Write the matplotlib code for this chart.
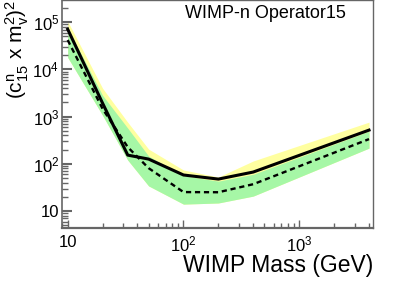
import numpy as np
import matplotlib
matplotlib.use("Agg")
import matplotlib.pyplot as plt
from matplotlib.ticker import FixedLocator, LogLocator, FuncFormatter, NullFormatter

plt.rcParams["font.family"] = ["Liberation Sans", "DejaVu Sans"]
plt.rcParams["mathtext.fontset"] = "custom"
plt.rcParams["mathtext.rm"] = "Liberation Sans"
plt.rcParams["mathtext.it"] = "Liberation Sans"
plt.rcParams["mathtext.default"] = "regular"

# WIMP masses (GeV)
mass = [10, 20, 33, 50, 100, 200, 400, 4000]
# observed limit
observed = [7.1e4, 1930, 153, 126, 58, 47.5, 67, 518]
# expected (median) limit
expected = [4.2e4, 1470, 226, 81, 25.2, 25, 37, 334]
# bands
green_lo = [1.8e4, 1070, 120, 34, 14, 14.8, 20.7, 215]
green_hi = [7.5e4, 2830, 570, 146, 56, 43, 60, 490]
yellow_hi = [1.05e5, 4000, 760, 205, 74, 52.5, 115, 765]

title = "WIMP-n Operator15"
xlabel = "WIMP Mass (GeV)"
ylabel = r"$(c^{n}_{15}$ x $m_{v}^{2})^{2}$"

fig = plt.figure(figsize=(4.15, 2.81), dpi=100)
ax = fig.add_axes([0.1494, 0.1886, 0.7494, 0.81])

ax.fill_between(mass, green_lo, yellow_hi, color="#ffffa0", lw=0)
ax.fill_between(mass, green_lo, green_hi, color="#a6f7a6", lw=0)
ax.plot(mass, expected, color="black", lw=1.7, ls=(0, (2.2, 1.6)))
ax.plot(mass, observed, color="black", lw=2.2)

ax.set_xscale("log")
ax.set_yscale("log")
ax.set_xlim(8.93, 4330)
ax.set_ylim(4.37, 2.9e5)

frame = "#666666"
for s in ax.spines.values():
    s.set_color(frame)
    s.set_linewidth(1.0)
ax.spines["bottom"].set_linewidth(1.6)
ax.spines["left"].set_linewidth(1.2)


def fmt(v, pos):
    e = int(round(np.log10(v)))
    return "10" if e == 1 else r"$10^{%d}$" % e


ax.xaxis.set_major_locator(FixedLocator([10, 100, 1000]))
ax.xaxis.set_minor_locator(LogLocator(base=10, subs=np.arange(2, 10)))
ax.yaxis.set_major_locator(FixedLocator([10, 100, 1e3, 1e4, 1e5]))
ax.yaxis.set_minor_locator(LogLocator(base=10, subs=np.arange(2, 10), numticks=20))
ax.xaxis.set_major_formatter(FuncFormatter(fmt))
ax.yaxis.set_major_formatter(FuncFormatter(fmt))
ax.xaxis.set_minor_formatter(NullFormatter())
ax.yaxis.set_minor_formatter(NullFormatter())

ax.tick_params(axis="both", which="both", direction="in", colors=frame,
               labelcolor="black", labelsize=12)
ax.tick_params(axis="x", which="major", length=6, width=1, pad=5)
ax.tick_params(axis="x", which="minor", length=3.5, width=1)
ax.tick_params(axis="y", which="major", length=7, width=1.5, pad=2)
ax.tick_params(axis="y", which="minor", length=4, width=1)

fig.text(265 / 415, 1 - 14 / 281, title, ha="center", va="center", fontsize=13)
fig.text(373 / 415, 1 - 272 / 281, xlabel, ha="right", va="baseline", fontsize=16.5)
fig.text(17 / 415, 1.0, ylabel, ha="center", va="top", rotation=90, fontsize=15)

fig.savefig("out.png", dpi=100)
